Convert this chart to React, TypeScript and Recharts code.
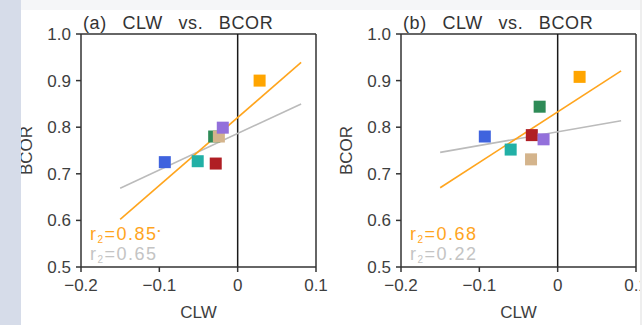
import React from 'react';
import { ScatterChart, Scatter, XAxis, YAxis, ReferenceLine, Cell } from 'recharts';

// colours of the seven squares: blue, teal, red, green, tan, purple, orange
const pointColors = ['#3F63DE', '#22B0A6', '#B01E24', '#2E8B57', '#D4B48C', '#9370DB', '#FFA500'];

// panel (a)
const clwA = [-0.093, -0.051, -0.028, -0.030, -0.024, -0.019, 0.028];
const bcorA = [0.725, 0.727, 0.722, 0.780, 0.780, 0.799, 0.900];
// panel (b)
const clwB = [-0.093, -0.060, -0.033, -0.023, -0.034, -0.018, 0.028];
const bcorB = [0.780, 0.752, 0.783, 0.844, 0.731, 0.774, 0.908];

// regression line end points
const fitClwEnds = [-0.15, 0.081];
const orangeFitA = [0.602, 0.939];
const grayFitA = [0.669, 0.850];
const orangeFitB = [0.670, 0.921];
const grayFitB = [0.746, 0.814];

const xTicks = [-0.2, -0.1, 0, 0.1];
const yTicks = [0.5, 0.6, 0.7, 0.8, 0.9, 1.0];
const panelTitles = ['(a) CLW vs. BCOR', '(b) CLW vs. BCOR'];
const r2Orange = ['0.85', '0.68'];
const r2OrangeMark = ['•', ''];
const r2Gray = ['0.65', '0.22'];

const FONT = '"Liberation Sans", Arial, Helvetica, sans-serif';
const AXIS = '#333';
const TEXT = '#3e3e3e';
const ORANGE = '#FFA51E';
const GRAY = '#BBBBBB';

const fmtX = (v: number) => (v === 0 ? '0' : v.toFixed(1).replace('-', '\u2212'));
const fmtY = (v: number) => v.toFixed(1);

const Square = (props: any) => {
  const { cx, cy, fill } = props;
  if (cx == null || cy == null) return <g />;
  return <rect x={cx - 6} y={cy - 6} width={12} height={12} fill={fill} />;
};

type PanelProps = {
  left: number;
  width: number;
  marginRight: number;
  clw: number[];
  bcor: number[];
  orangeFit: number[];
  grayFit: number[];
};

function Panel({ left, width, marginRight, clw, bcor, orangeFit, grayFit }: PanelProps) {
  const data = clw.map((x, i) => ({ clw: x, bcor: bcor[i], color: pointColors[i] }));
  const tickStyle = { fill: TEXT, fontSize: 17, fontFamily: FONT };
  return (
    <div style={{ position: 'absolute', left, top: 0, width, height: 325 }}>
      <ScatterChart width={width} height={325} margin={{ top: 34, right: marginRight, bottom: 0, left: 0 }}>
        <XAxis
          type="number"
          dataKey="clw"
          domain={[-0.2, 0.1]}
          ticks={xTicks}
          interval={0}
          allowDataOverflow
          tickFormatter={fmtX}
          tickSize={5}
          tickMargin={7}
          height={58}
          stroke={AXIS}
          strokeWidth={1.5}
          tick={tickStyle}
          label={{ value: 'CLW', position: 'insideBottom', offset: 7, fill: TEXT, fontSize: 17, fontFamily: FONT }}
        />
        <YAxis
          type="number"
          dataKey="bcor"
          domain={[0.5, 1.0]}
          ticks={yTicks}
          interval={0}
          allowDataOverflow
          tickFormatter={fmtY}
          tickSize={5}
          tickMargin={5}
          width={81}
          stroke={AXIS}
          strokeWidth={1.5}
          tick={tickStyle}
          label={{
            value: 'BCOR',
            angle: -90,
            position: 'insideLeft',
            offset: 26,
            fill: TEXT,
            fontSize: 17,
            fontFamily: FONT,
            style: { textAnchor: 'middle' },
          }}
        />
        <ReferenceLine y={1.0} stroke={AXIS} strokeWidth={1.5} />
        <ReferenceLine x={0.1} stroke={AXIS} strokeWidth={1.5} />
        <ReferenceLine x={0} stroke="#1a1a1a" strokeWidth={1.5} />
        <ReferenceLine
          segment={[
            { x: fitClwEnds[0], y: grayFit[0] },
            { x: fitClwEnds[1], y: grayFit[1] },
          ]}
          stroke={GRAY}
          strokeWidth={1.6}
        />
        <ReferenceLine
          segment={[
            { x: fitClwEnds[0], y: orangeFit[0] },
            { x: fitClwEnds[1], y: orangeFit[1] },
          ]}
          stroke={ORANGE}
          strokeWidth={1.6}
        />
        <Scatter data={data} isAnimationActive={false} shape={Square}>
          {data.map((d, i) => (
            <Cell key={i} fill={d.color} />
          ))}
        </Scatter>
      </ScatterChart>
    </div>
  );
}

export default function App() {
  const panelLefts = [0, 320];
  const textOffsets = [81, 401];
  return (
    <div
      style={{
        position: 'absolute',
        left: 0,
        top: 0,
        width: 642,
        height: 325,
        overflow: 'hidden',
        background: '#ffffff',
        fontFamily: FONT,
      }}
    >
      <div style={{ position: 'absolute', left: 0, top: 0, width: 642, height: 10, background: '#f5f6f8' }} />
      <Panel
        left={panelLefts[0]}
        width={330}
        marginRight={14}
        clw={clwA}
        bcor={bcorA}
        orangeFit={orangeFitA}
        grayFit={grayFitA}
      />
      <Panel
        left={panelLefts[1]}
        width={322}
        marginRight={6}
        clw={clwB}
        bcor={bcorB}
        orangeFit={orangeFitB}
        grayFit={grayFitB}
      />
      <svg
        width={642}
        height={325}
        style={{ position: 'absolute', left: 0, top: 0, pointerEvents: 'none' }}
      >
        {textOffsets.map((ox, i) => (
          <g key={i} fontFamily={FONT}>
            <text x={ox + 2} y={28.5} fontSize={18} letterSpacing={0.6} wordSpacing={10} fill="#333">
              {panelTitles[i]}
            </text>
            <text x={ox + 9} y={239.5} fontSize={18} letterSpacing={1.5} fill={ORANGE}>
              r
              <tspan fontSize={10} dy={3}>2</tspan>
              <tspan dy={-3}>{'=' + r2Orange[i]}</tspan>
              {r2OrangeMark[i] ? (
                <tspan fontSize={8} dy={-7}>{r2OrangeMark[i]}</tspan>
              ) : null}
            </text>
            <text x={ox + 9} y={260} fontSize={18} letterSpacing={1.5} fill="#C4C4C4">
              r
              <tspan fontSize={10} dy={3}>2</tspan>
              <tspan dy={-3}>{'=' + r2Gray[i]}</tspan>
            </text>
          </g>
        ))}
      </svg>
      <div style={{ position: 'absolute', left: 0, top: 0, width: 21, height: 325, background: '#d6dce9' }} />
      <div style={{ position: 'absolute', left: 640, top: 0, width: 2, height: 325, background: '#eeeeee' }} />
    </div>
  );
}
